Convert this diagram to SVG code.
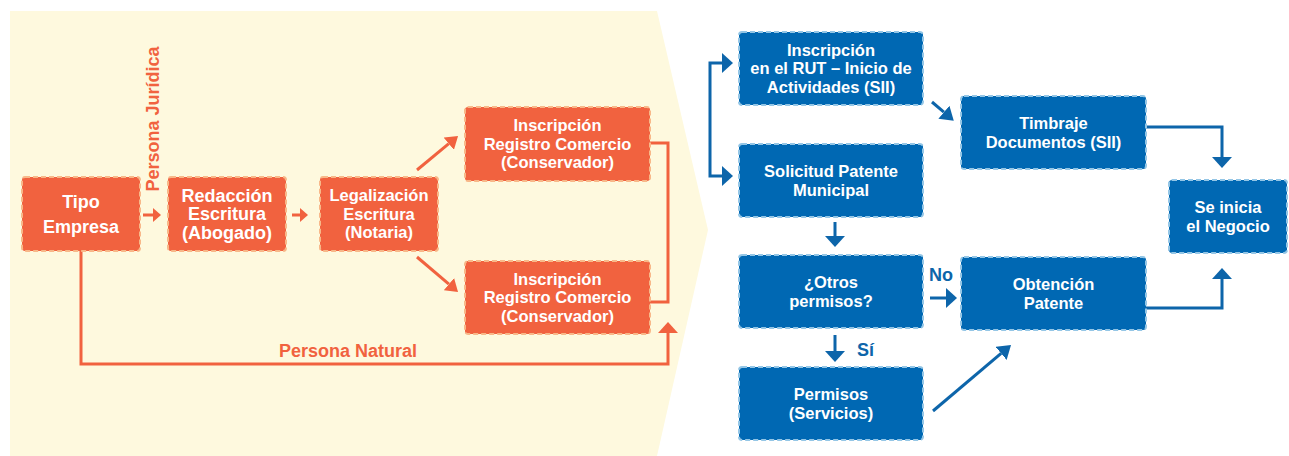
<svg xmlns="http://www.w3.org/2000/svg" width="1289" height="456" viewBox="0 0 1289 456">
<style>
.on rect{fill:#F1623F;stroke:#F8B889;stroke-width:2;stroke-dasharray:5 3}
.bn rect{fill:#0068B3;stroke:#94C6E6;stroke-width:2;stroke-dasharray:5 3}
text{font-family:"Liberation Sans",Arial,sans-serif;font-weight:bold}
.on text,.bn text{fill:#fff;text-anchor:middle;font-size:16.5px}
.big text{font-size:18px}
.oc{fill:none;stroke:#F1623F;stroke-width:3}
.bc{fill:none;stroke:#0D65AA;stroke-width:3}
.ol{fill:#F1623F;font-size:18px}
.bl{fill:#0D65AA;font-size:18px}
</style>
<defs>
<marker id="aos" markerUnits="userSpaceOnUse" markerWidth="8" markerHeight="14" refX="0" refY="7" orient="auto"><path d="M0,0 L8,7 L0,14 z" fill="#F1623F"/></marker>
<marker id="aod" markerUnits="userSpaceOnUse" markerWidth="12" markerHeight="16" refX="0" refY="8" orient="auto"><path d="M0,0 L12,8 L0,16 z" fill="#F1623F"/></marker>
<marker id="ao" markerUnits="userSpaceOnUse" markerWidth="11" markerHeight="20" refX="0" refY="10" orient="auto"><path d="M0,0 L11,10 L0,20 z" fill="#F1623F"/></marker>
<marker id="ab" markerUnits="userSpaceOnUse" markerWidth="11" markerHeight="20" refX="0" refY="10" orient="auto"><path d="M0,0 L11,10 L0,20 z" fill="#0D65AA"/></marker>
<marker id="abd" markerUnits="userSpaceOnUse" markerWidth="13" markerHeight="17" refX="0" refY="8.5" orient="auto"><path d="M0,0 L13,8.5 L0,17 z" fill="#0D65AA"/></marker>
</defs>
<polygon id="background" points="10,11 657,11 708,230 657,456 10,456" fill="#FEF9DE"/>

<g id="connectors">
<line class="oc" x1="143" y1="215" x2="153" y2="215" marker-end="url(#aos)"/>
<line class="oc" x1="292" y1="215" x2="300" y2="215" marker-end="url(#aos)"/>
<line class="oc" x1="417" y1="170" x2="448.8" y2="143.7" marker-end="url(#aod)"/>
<line class="oc" x1="417" y1="257" x2="448.9" y2="284.2" marker-end="url(#aod)"/>
<polyline class="oc" points="650,143 668,143 668,302 650,302"/>
<polyline class="oc" points="81,251 81,364 668,364 668,333" marker-end="url(#ao)"/>
<polyline class="bc" points="710,120 710,63 722,63" marker-end="url(#ab)"/>
<polyline class="bc" points="710,120 710,176 722,176" marker-end="url(#ab)"/>
<line class="bc" x1="932" y1="102" x2="943.9" y2="112.2" marker-end="url(#abd)"/>
<polyline class="bc" points="1146,127 1222,127 1222,157" marker-end="url(#ab)"/>
<polyline class="bc" points="1146,308 1222,308 1222,279" marker-end="url(#ab)"/>
<line class="bc" x1="835" y1="222" x2="835" y2="236" marker-end="url(#ab)"/>
<line class="bc" x1="835" y1="335" x2="835" y2="351" marker-end="url(#ab)"/>
<line class="bc" x1="930" y1="298" x2="946" y2="298" marker-end="url(#ab)"/>
<line class="bc" x1="933" y1="411" x2="1001.1" y2="353.4" marker-end="url(#abd)"/>
<text class="ol" transform="translate(159,119) rotate(-90)" text-anchor="middle">Persona Jurídica</text>
<text class="ol" x="348" y="357" text-anchor="middle">Persona Natural</text>
<text class="bl" x="929" y="281">No</text>
<text class="bl" x="857" y="356">Sí</text>
</g>

<g id="tipo" class="on big"><rect x="22" y="177" width="118" height="74" rx="3"/><text x="81" y="208">Tipo</text><text x="81" y="233">Empresa</text></g>
<g id="redaccion" class="on big"><rect x="168" y="177" width="118" height="74" rx="3"/><text x="227" y="201.5">Redacción</text><text x="227" y="220">Escritura</text><text x="227" y="238.5">(Abogado)</text></g>
<g id="legalizacion" class="on"><rect x="320" y="177" width="118" height="74" rx="3"/><text x="379" y="201.4">Legalización</text><text x="379" y="219.9">Escritura</text><text x="379" y="238.4">(Notaria)</text></g>
<g id="inscripcion1" class="on"><rect x="465" y="107" width="185" height="74" rx="3"/><text x="557.5" y="131.4">Inscripción</text><text x="557.5" y="149.9">Registro Comercio</text><text x="557.5" y="168.4">(Conservador)</text></g>
<g id="inscripcion2" class="on"><rect x="465" y="261" width="185" height="73" rx="3"/><text x="557.5" y="284.9">Inscripción</text><text x="557.5" y="303.4">Registro Comercio</text><text x="557.5" y="321.9">(Conservador)</text></g>

<g id="rut" class="bn"><rect x="739" y="32" width="184" height="73" rx="3"/><text x="831" y="55.9">Inscripción</text><text x="831" y="74.4">en el RUT – Inicio de</text><text x="831" y="92.9">Actividades (SII)</text></g>
<g id="solicitud" class="bn"><rect x="739" y="144" width="184" height="73" rx="3"/><text x="831" y="177.2">Solicitud Patente</text><text x="831" y="195.7">Municipal</text></g>
<g id="otros" class="bn"><rect x="739" y="255" width="184" height="73" rx="3"/><text x="831" y="288.2">¿Otros</text><text x="831" y="306.7">permisos?</text></g>
<g id="permisos" class="bn"><rect x="739" y="367" width="184" height="73" rx="3"/><text x="831" y="400.2">Permisos</text><text x="831" y="418.7">(Servicios)</text></g>
<g id="timbraje" class="bn"><rect x="961" y="96" width="185" height="73" rx="3"/><text x="1053.5" y="129.2">Timbraje</text><text x="1053.5" y="147.7">Documentos (SII)</text></g>
<g id="obtencion" class="bn"><rect x="961" y="257" width="185" height="73" rx="3"/><text x="1053.5" y="290.2">Obtención</text><text x="1053.5" y="308.7">Patente</text></g>
<g id="inicio" class="bn"><rect x="1169" y="180" width="118" height="73" rx="3"/><text x="1228" y="213.2">Se inicia</text><text x="1228" y="231.7">el Negocio</text></g>
</svg>
